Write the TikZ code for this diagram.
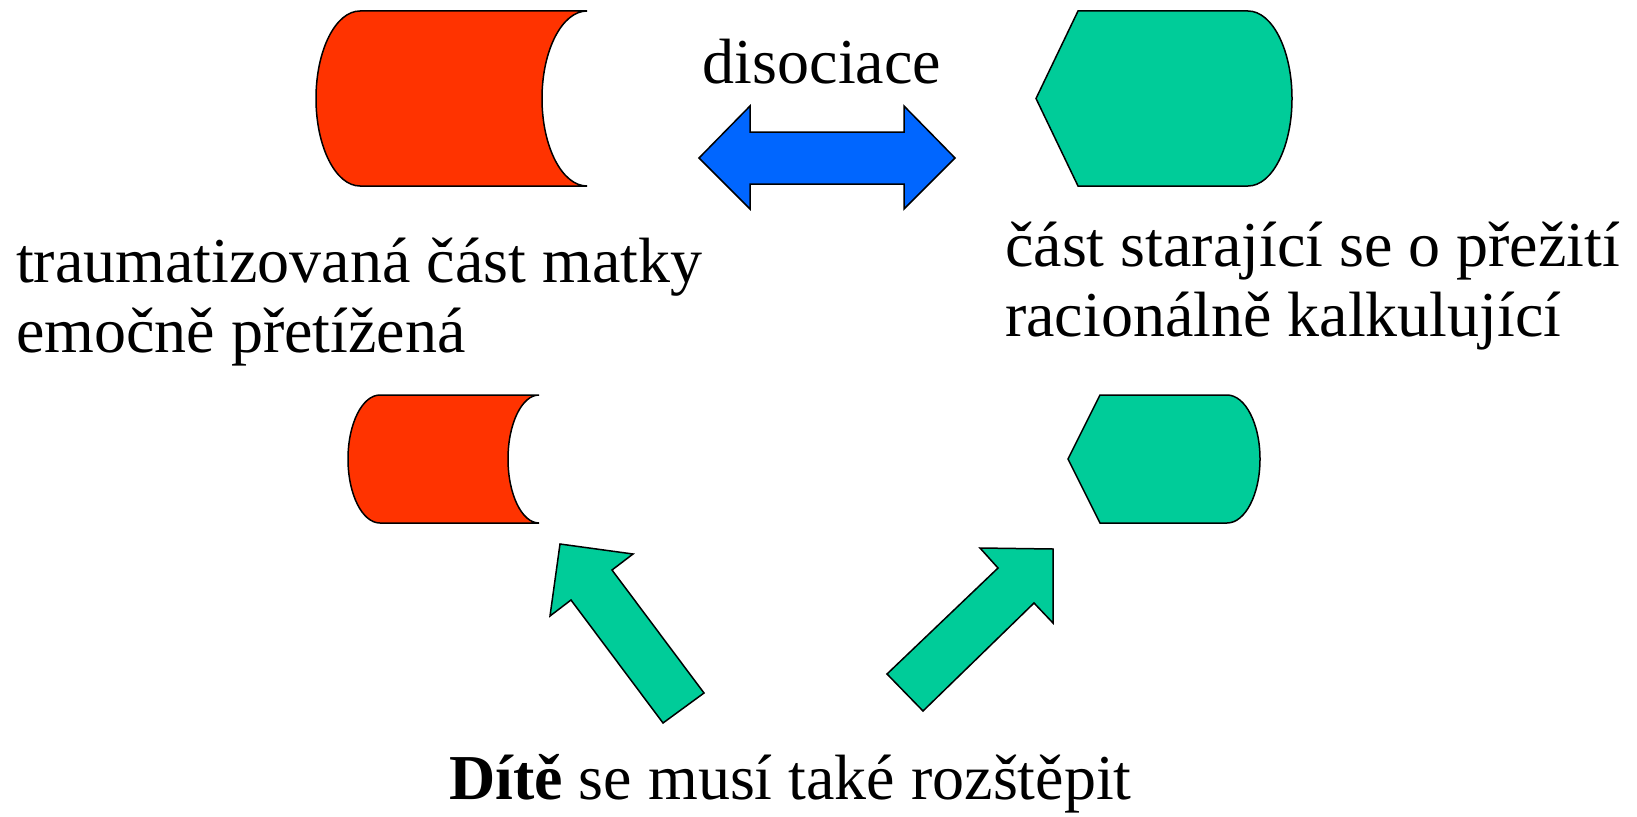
\documentclass[tikz,border=0pt]{standalone}
\usepackage{fontspec}
\setmainfont{Liberation Serif}
\definecolor{partred}{RGB}{255,51,0}
\definecolor{partgreen}{RGB}{0,204,153}
\definecolor{partblue}{RGB}{0,102,255}
\begin{document}
\begin{tikzpicture}[x=1pt,y=1pt,line join=miter,
	font=\fontsize{64}{70}\selectfont,
	partshape/.style={draw=black,line width=1.5pt},
	lbl/.style={inner sep=0pt,align=left}]
\useasboundingbox (0,0) rectangle (1637,-816);
% mother: traumatised part
\draw[partshape,fill=partred] (360,-11)--(587,-11) arc[start angle=90,end angle=270,x radius=45,y radius=87.5]
	--(360,-186) arc[start angle=270,end angle=90,x radius=44,y radius=87.5]--cycle;
% mother: surviving part
\draw[partshape,fill=partgreen] (1078,-11)--(1248,-11) arc[start angle=90,end angle=-90,x radius=44,y radius=87.5]
	--(1078,-186)--(1036,-98.5)--cycle;
% dissociation arrow
\draw[partshape,fill=partblue] (699,-158)--(750,-106)--(750,-132)--(904,-132)--(904,-106)--(955,-158)
	--(904,-209)--(904,-184)--(750,-184)--(750,-209)--cycle;
\node[lbl,anchor=base] (dis) at (822,-83) {disociace};
\node[lbl,anchor=base west] (trauma) at (16,-352) {traumatizovaná část matky\\emočně přetížená};
\node[lbl,anchor=base west] (surv) at (1005,-336) {část starající se o přežití\\racionálně kalkulující};
% child parts
\draw[partshape,fill=partred] (380,-395)--(539,-395) arc[start angle=90,end angle=270,x radius=31,y radius=64]
	--(380,-523) arc[start angle=270,end angle=90,x radius=32,y radius=64]--cycle;
\draw[partshape,fill=partgreen] (1100,-395)--(1227,-395) arc[start angle=90,end angle=-90,x radius=33,y radius=64]
	--(1100,-523)--(1068,-459)--cycle;
% splitting arrows
\draw[partshape,fill=partgreen] (560,-544)--(633,-554)--(612,-570)--(704,-693)--(663,-723)--(571,-600)--(550,-616)--cycle;
\draw[partshape,fill=partgreen] (1053,-549)--(1053,-623)--(1034,-603)--(923,-711)--(887,-674)--(998,-568)--(980,-548)--cycle;
\node[lbl,anchor=base west] (child) at (449,-799) {\textbf{Dítě} se musí také rozštěpit};
\end{tikzpicture}
\end{document}
